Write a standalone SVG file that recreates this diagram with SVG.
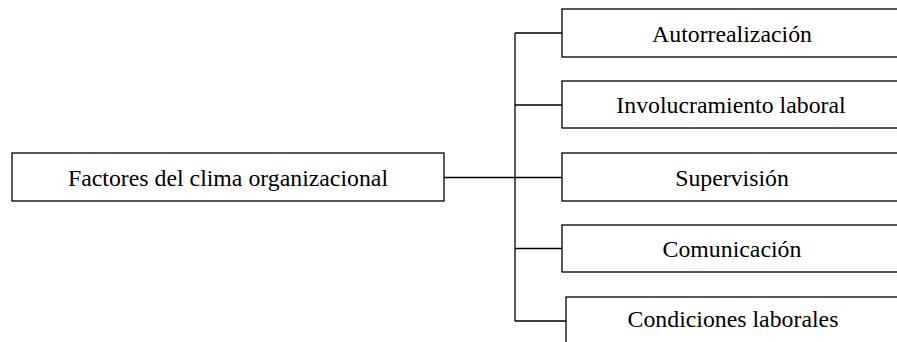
<svg xmlns="http://www.w3.org/2000/svg" width="897" height="342" viewBox="0 0 897 342">
<style>
.box{fill:#fff;stroke:#000;stroke-width:1.3}
.t{font-family:"Liberation Serif","Times New Roman",serif;font-size:23.8px;fill:#000;text-anchor:middle}
.c{fill:none;stroke:#000;stroke-width:1.3}
</style>
<rect width="897" height="342" fill="#fff"/>
<g id="connectors">
<path class="c" d="M444 177.5H515M515 33V321M515 33H562M515 105H562M515 177.5H562M515 248.5H562M515 321H566"/>
</g>
<g id="root"><rect class="box" x="12" y="153" width="432" height="48"/><text class="t" x="228" y="186">Factores del clima organizacional</text></g>
<g id="n1"><rect class="box" x="562" y="9" width="350" height="48"/><text class="t" x="732" y="42">Autorrealización</text></g>
<g id="n2"><rect class="box" x="562" y="81" width="350" height="47"/><text class="t" x="731" y="113">Involucramiento laboral</text></g>
<g id="n3"><rect class="box" x="562" y="153" width="350" height="48"/><text class="t" x="732" y="186">Supervisión</text></g>
<g id="n4"><rect class="box" x="562" y="225" width="350" height="47"/><text class="t" x="732" y="257">Comunicación</text></g>
<g id="n5"><rect class="box" x="566" y="297" width="350" height="60"/><text class="t" x="733" y="327">Condiciones laborales</text></g>
</svg>
